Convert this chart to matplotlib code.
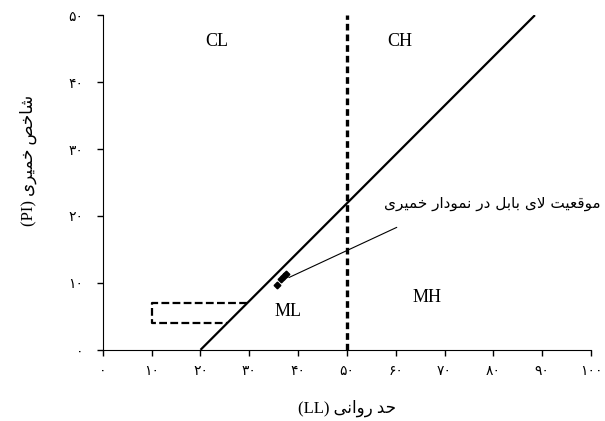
import numpy as np
import matplotlib
matplotlib.use("Agg")
import matplotlib.pyplot as plt

# نمودار خمیری کاساگرانده با نقاط لای بابل
plt.rcParams['font.family'] = ['Liberation Serif', 'DejaVu Sans']

# حد روانی و شاخص خمیری نمونه ها
ll_samples = [35.6, 36.5, 37.1, 37.5]
pi_samples = [9.7, 10.6, 11.1, 11.3]

# خط A و مرز LL=50
aline_ll = [20, 88.5]
aline_pi = [0, 50]
ll_boundary = 50

# ناحیه CL-ML
zone_ll = [29.6, 10, 10, 25.5]
zone_pi = [7, 7, 4, 4]

xticks = [0, 10, 20, 30, 40, 50, 60, 70, 80, 90, 100]
yticks = [0, 10, 20, 30, 40, 50]

# جدول شکل های حروف: (تنها، پایانی، آغازی، میانی)
FORMS = {
    'ا': ('\uFE8D', '\uFE8E', None, None),
    'ب': ('\uFE8F', '\uFE90', '\uFE91', '\uFE92'),
    'ت': ('\uFE95', '\uFE96', '\uFE97', '\uFE98'),
    'ح': ('\uFEA1', '\uFEA2', '\uFEA3', '\uFEA4'),
    'خ': ('\uFEA5', '\uFEA6', '\uFEA7', '\uFEA8'),
    'د': ('\uFEA9', '\uFEAA', None, None),
    'ر': ('\uFEAD', '\uFEAE', None, None),
    'ش': ('\uFEB5', '\uFEB6', '\uFEB7', '\uFEB8'),
    'ص': ('\uFEB9', '\uFEBA', '\uFEBB', '\uFEBC'),
    'ع': ('\uFEC9', '\uFECA', '\uFECB', '\uFECC'),
    'ق': ('\uFED5', '\uFED6', '\uFED7', '\uFED8'),
    'ل': ('\uFEDD', '\uFEDE', '\uFEDF', '\uFEE0'),
    'م': ('\uFEE1', '\uFEE2', '\uFEE3', '\uFEE4'),
    'ن': ('\uFEE5', '\uFEE6', '\uFEE7', '\uFEE8'),
    'و': ('\uFEED', '\uFEEE', None, None),
    'ی': ('\uFBFC', '\uFBFD', '\uFBFE', '\uFBFF'),
    'لا': ('\uFEFB', '\uFEFC', None, None),
}


def shape(text):
    "اتصال حروف و برگرداندن ترتیب برای نمایش راست به چپ"
    chars = []
    i = 0
    while i < len(text):
        if text[i] == 'ل' and i + 1 < len(text) and text[i + 1] == 'ا':
            chars.append('لا')
            i += 2
        else:
            chars.append(text[i])
            i += 1
    out = []
    for k, c in enumerate(chars):
        if c not in FORMS:
            out.append(c)
            continue
        prev = chars[k - 1] if k > 0 else None
        nxt = chars[k + 1] if k + 1 < len(chars) else None
        join_prev = prev in FORMS and FORMS[prev][2] is not None
        join_next = nxt in FORMS and FORMS[c][2] is not None
        iso, fin, ini, med = FORMS[c]
        if join_prev and join_next:
            out.append(med)
        elif join_prev:
            out.append(fin)
        elif join_next:
            out.append(ini)
        else:
            out.append(iso)
    return ''.join(reversed(out))


def fa_digits(n):
    return ''.join('۰۱۲۳۴۵۶۷۸۹'[int(d)] for d in str(n))


fig = plt.figure(figsize=(6.05, 4.21), dpi=100)
ax = fig.add_axes([0.170, 0.169, 0.807, 0.795])

ax.plot(aline_ll, aline_pi, color='black', lw=1.6, solid_capstyle='butt')
ax.plot([ll_boundary, ll_boundary], [0, 50], color='black', lw=2.4,
        linestyle=(0, (2.0, 1.2)))
ax.plot(zone_ll, zone_pi, color='black', lw=1.6, linestyle=(0, (3.5, 1.5)))
ax.plot(ll_samples, pi_samples, 'D', color='black', ms=3.4)

ax.text(23.3, 46.1, 'CL', fontsize=13, ha='center', va='center')
ax.text(60.9, 46.1, 'CH', fontsize=13, ha='center', va='center')
ax.text(37.9, 5.7, 'ML', fontsize=13, ha='center', va='center')
ax.text(66.4, 7.8, 'MH', fontsize=13, ha='center', va='center')

# برچسب و خط راهنما به نقاط نمونه
ax.text(102, 21.9, shape('موقعیت لای بابل در نمودار خمیری'), fontsize=11,
        ha='right', va='center', family='DejaVu Sans', clip_on=False)
ax.annotate('', xy=(38.1, 10.8), xytext=(60.2, 18.3),
            arrowprops=dict(arrowstyle='-', color='black', lw=0.8,
                            shrinkA=0, shrinkB=0))

ax.set_xlim(0, 100)
ax.set_ylim(0, 50)
ax.set_xticks(xticks)
ax.set_xticklabels([fa_digits(v) for v in xticks], family='DejaVu Sans', fontsize=10)
ax.set_yticks(yticks)
ax.set_yticklabels([fa_digits(v) for v in yticks], family='DejaVu Sans', fontsize=10)
ax.tick_params(direction='out', length=4, width=1)
ax.tick_params(axis='x', pad=6)
ax.tick_params(axis='y', pad=10)
ax.spines['top'].set_visible(False)
ax.spines['right'].set_visible(False)

ax.set_xlabel('(LL) ' + shape('حد روانی'), fontsize=12)
ax.xaxis.set_label_coords(0.5, -0.148)
ax.set_ylabel('(PI) ' + shape('شاخص خمیری'), fontsize=12)
ax.yaxis.set_label_coords(-0.135, 0.567)

fig.savefig('out.png', dpi=100)
